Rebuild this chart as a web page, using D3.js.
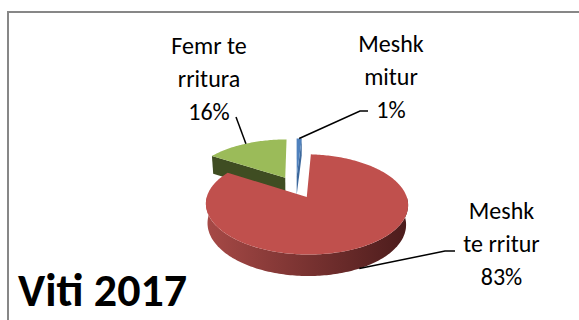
<!DOCTYPE html>
<html>
<head>
<meta charset="utf-8">
<script src="https://cdn.jsdelivr.net/npm/d3@7"></script>
<style>
  html, body { margin: 0; padding: 0; background: #fff; }
  svg { display: block; }
</style>
</head>
<body>
<div id="chart"></div>
<script>
// ---- data ----
const categories = ["Meshk mitur", "Meshk te rritur", "Femr te rritura"];
const labelLines = [["Meshk", "mitur"], ["Meshk", "te rritur"], ["Femr te", "rritura"]];
const values = [1, 83, 16];
const title = "Viti 2017";

// ---- styling ----
const topColors  = ["#4f81bd", "#c0504d", "#9bbb59"];
const wallStops  = [["#5d8ecb", "#25446e"], ["#a84a47", "#4a1b1b"], ["#7f9c47", "#3a4a1f"]];
const faceColors = ["#3c689c", "#7e3331", "#3f4d22"];

const W = 579, H = 320;
const svg = d3.select("#chart").append("svg").attr("width", W).attr("height", H);
const defs = svg.append("defs");

// chart frame (continues past the right and bottom edges)
svg.append("rect")
  .attr("x", 8).attr("y", 12).attr("width", W).attr("height", H)
  .attr("fill", "none").attr("stroke", "#878787").attr("stroke-width", 2);

// ---- 3D pie geometry ----
const cx = 296, cy = 187, R = 97, depth = 22, explode = 23;
const tilt = 28.4 * Math.PI / 180, camD = 600;
const sinT = Math.sin(tilt), cosT = Math.cos(tilt);

// X right, Y up, Z toward the viewer; perspective projection onto the page
function project(X, Y, Z) {
  const yv = -Z * sinT + Y * cosT;
  const zv = Z * cosT + Y * sinT;
  const s = camD / (camD - zv);
  return [cx + s * X, cy - s * yv];
}
// a point of a slice at angle a (clockwise from 12 o'clock), radius r, height Y
function pt(off, a, r, Y) {
  return project(off[0] + r * Math.sin(a), Y, off[1] - r * Math.cos(a));
}
function arcPts(off, a0, a1, Y) {
  const n = Math.max(2, Math.ceil(Math.abs(a1 - a0) / 0.02));
  return d3.range(n + 1).map(i => pt(off, a0 + (a1 - a0) * i / n, R, Y));
}
const line = d3.line().curve(d3.curveLinear);
const closed = p => line(p) + "Z";

const pie = d3.pie().sort(null).startAngle(0).endAngle(2 * Math.PI);
const arcs = pie(values).map((d, i) => {
  const mid = (d.startAngle + d.endAngle) / 2;
  return { ...d, i, mid, off: [explode * Math.sin(mid), -explode * Math.cos(mid)] };
});
const total = d3.sum(values);
const pct = d3.format(".0%");

// paint back to front
const order = arcs.slice().sort((a, b) => a.off[1] - b.off[1]);
const g = svg.append("g");

order.forEach(d => {
  const { off, startAngle: a0, endAngle: a1, i } = d;
  const apexT = project(off[0], 0, off[1]);
  const apexB = project(off[0], -depth, off[1]);

  // radial cut faces facing the viewer
  if (Math.sin(a0) < -1e-6) {
    g.append("path").attr("fill", faceColors[i])
      .attr("d", closed([apexT, pt(off, a0, R, 0), pt(off, a0, R, -depth), apexB]));
  }
  if (Math.sin(a1) > 1e-6) {
    g.append("path").attr("fill", faceColors[i])
      .attr("d", closed([apexT, pt(off, a1, R, 0), pt(off, a1, R, -depth), apexB]));
  }

  // outer wall on the front half
  const b0 = Math.max(a0, Math.PI / 2), b1 = Math.min(a1, 3 * Math.PI / 2);
  if (b1 > b0) {
    const gid = "wall" + i;
    const xl = project(off[0] - R, 0, off[1])[0] - 4, xr = project(off[0] + R, 0, off[1])[0] + 4;
    const grad = defs.append("linearGradient").attr("id", gid)
      .attr("gradientUnits", "userSpaceOnUse")
      .attr("x1", xl).attr("x2", xr).attr("y1", 0).attr("y2", 0);
    grad.append("stop").attr("offset", 0).attr("stop-color", wallStops[i][0]);
    grad.append("stop").attr("offset", 1).attr("stop-color", wallStops[i][1]);
    const topArc = arcPts(off, b0, b1, 0);
    const botArc = arcPts(off, b1, b0, -depth);
    g.append("path").attr("fill", `url(#${gid})`).attr("d", closed(topArc.concat(botArc)));
  }

  // top face
  g.append("path").attr("fill", topColors[i])
    .attr("d", closed([apexT].concat(arcPts(off, a0, a1, 0))));
});

// ---- data labels with leader lines ----
const labelAt = [{ x: 391, y: 52 }, { x: 501.5, y: 218.5 }, { x: 209, y: 53.5 }];
const elbows = [[[360, 111], [368, 111]], [[445, 251], [455, 251]], [[236, 117]]];
const lineGap = 33;

arcs.forEach(d => {
  const front = Math.cos(d.mid) < 0;
  const anchor = pt(d.off, d.mid, R, front ? -depth : 0);
  svg.append("path")
    .attr("d", line([anchor].concat(elbows[d.i])))
    .attr("fill", "none").attr("stroke", "#000").attr("stroke-width", 1.5);

  const t = svg.append("text")
    .attr("text-anchor", "middle")
    .attr("font-family", "Carlito, Calibri, Lato, sans-serif")
    .attr("font-size", 24).attr("fill", "#000");
  labelLines[d.i].concat([pct(d.value / total)]).forEach((s, k) => {
    t.append("tspan").attr("x", labelAt[d.i].x).attr("y", labelAt[d.i].y + k * lineGap).text(s);
  });
});

// ---- title ----
svg.append("text")
  .attr("x", 18).attr("y", 306)
  .attr("font-family", "Carlito, Calibri, Lato, sans-serif")
  .attr("font-weight", "bold").attr("font-size", 46).attr("fill", "#000")
  .text(title);
</script>
</body>
</html>
